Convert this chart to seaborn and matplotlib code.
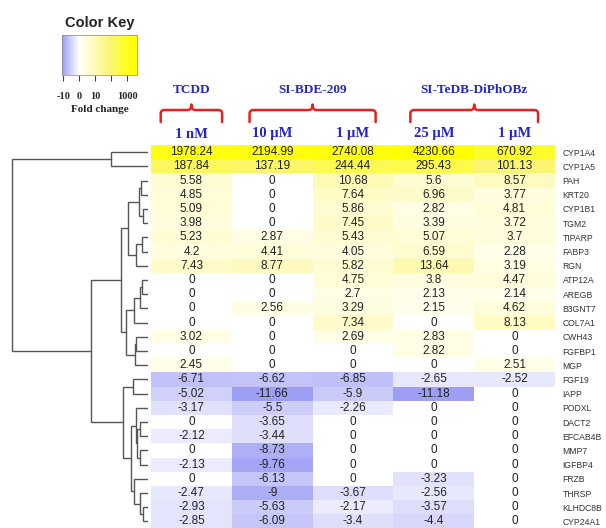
import numpy as np
import pandas as pd
import matplotlib
matplotlib.use("Agg")
import matplotlib.pyplot as plt
import seaborn as sns
from matplotlib.colors import LinearSegmentedColormap, Normalize
from matplotlib.path import Path
from matplotlib.patches import PathPatch
import matplotlib.cm as cm

# ---- data ----
genes = ["CYP1A4", "CYP1A5", "PAH", "KRT20", "CYP1B1", "TGM2", "TIPARP", "FABP3",
         "RGN", "ATP12A", "AREGB", "B3GNT7", "COL7A1", "CWH43", "FGFBP1", "MGP",
         "FGF19", "IAPP", "PODXL", "DACT2", "EFCAB4B", "MMP7", "IGFBP4", "FRZB",
         "THRSP", "KLHDC8B", "CYP24A1"]
conditions = ["1 nM", "10 \u00b5M", "1 \u00b5M", "25 \u00b5M", "1 \u00b5M"]
groups = ["TCDD", "SI-BDE-209", "SI-TeDB-DiPhOBz"]
group_cols = [(0, 1), (1, 3), (3, 5)]

tcdd_1nM = [1978.24, 187.84, 5.58, 4.85, 5.09, 3.98, 5.23, 4.2, 7.43, 0, 0, 0, 0,
            3.02, 0, 2.45, -6.71, -5.02, -3.17, 0, -2.12, 0, -2.13, 0, -2.47, -2.93, -2.85]
bde_10uM = [2194.99, 137.19, 0, 0, 0, 0, 2.87, 4.41, 8.77, 0, 0, 2.56, 0,
            0, 0, 0, -6.62, -11.66, -5.5, -3.65, -3.44, -8.73, -9.76, -6.13, -9, -5.63, -6.09]
bde_1uM = [2740.08, 244.44, 10.68, 7.64, 5.86, 7.45, 5.43, 4.05, 5.82, 4.75, 2.7, 3.29, 7.34,
           2.69, 0, 0, -6.85, -5.9, -2.26, 0, 0, 0, 0, 0, -3.67, -2.17, -3.4]
tedb_25uM = [4230.66, 295.43, 5.6, 6.96, 2.82, 3.39, 5.07, 6.59, 13.64, 3.8, 2.13, 2.15, 0,
             2.83, 2.82, 0, -2.65, -11.18, 0, 0, 0, 0, 0, -3.23, -2.56, -3.57, -4.4]
tedb_1uM = [670.92, 101.13, 8.57, 3.77, 4.81, 3.72, 3.7, 2.28, 3.19, 4.47, 2.14, 4.62, 8.13,
            0, 0, 2.51, -2.52, 0, 0, 0, 0, 0, 0, 0, 0, 0, 0]

# row dendrogram (scipy-like linkage: left id, right id, height), leaves 0..26
merges = [(4, 5, 5), (2, 3, 7), (28, 27, 9), (6, 7, 6), (30, 8, 12), (29, 31, 20),
          (9, 10, 6), (33, 11, 8), (34, 12, 14), (13, 14, 12), (36, 15, 13),
          (35, 37, 22), (32, 38, 27), (0, 1, 37), (16, 17, 15), (19, 20, 8),
          (21, 22, 8), (42, 43, 11), (18, 44, 12), (25, 26, 5), (24, 46, 8),
          (23, 47, 14), (45, 48, 17), (41, 49, 25), (39, 50, 57), (40, 51, 136)]

key_ticks = [-10, 0, 10, 100, 1000]
key_labels = ["-10", "0", "10", "", "1000"]


def fold_scale(v):
    """symmetric lin/log scale used by the color key"""
    v = np.asarray(v, dtype=float)
    a = np.abs(v)
    return np.sign(v) * np.where(a <= 10, a / 10, 1 + np.log10(np.maximum(a, 10) / 10))


df = pd.DataFrame({"c0": tcdd_1nM, "c1": bde_10uM, "c2": bde_1uM,
                   "c3": tedb_25uM, "c4": tedb_1uM}, index=genes)
scaled = pd.DataFrame(fold_scale(df.values), index=genes, columns=conditions)
labels = np.vectorize(lambda x: f"{x:g}")(df.values)

vmin = float(fold_scale(-11.66))
vmax = float(fold_scale(4230.66))
anchors = [(vmin, (0.62, 0.62, 0.96)), (0.0, (1, 1, 1)), (0.25, (1, 0.995, 0.90)),
           (1.0, (0.995, 0.98, 0.72)), (2.0, (0.98, 0.96, 0.45)),
           (3.0, (1, 1, 0.12)), (vmax, (1, 1, 0))]
cmap = LinearSegmentedColormap.from_list(
    "fold", [((p - vmin) / (vmax - vmin), c) for p, c in anchors])

sns.set_style("white")
plt.rcParams["font.family"] = ["Liberation Sans", "DejaVu Sans"]

W, H = 606, 528
fig = plt.figure(figsize=(W / 100, H / 100), dpi=100)

hm_left, hm_right, hm_top, hm_bot = 151, 555, 145, 528.6
ax_hm = fig.add_axes([hm_left / W, (H - hm_bot) / H, (hm_right - hm_left) / W,
                      (hm_bot - hm_top) / H])
sns.heatmap(scaled, annot=labels, fmt="", cmap=cmap, vmin=vmin, vmax=vmax,
            cbar=False, linewidths=0, xticklabels=False, yticklabels=genes,
            annot_kws={"fontsize": 8.5, "color": "#222222", "family": "Liberation Sans"},
            ax=ax_hm)
ax_hm.yaxis.tick_right()
ax_hm.tick_params(axis="y", length=0, pad=5.5, labelsize=6.2, labelcolor="#333333")
for t in ax_hm.get_yticklabels():
    t.set_rotation(0)
    t.set_family(["Liberation Sans Narrow", "Liberation Sans"])
ax_hm.set_xlabel("")
ax_hm.set_ylabel("")

# dendrogram
ax_den = fig.add_axes([10 / W, (H - hm_bot) / H, 138 / W, (hm_bot - hm_top) / H])
pos = {i: (i + 0.5, 0.0) for i in range(len(genes))}
for k, (a, b, h) in enumerate(merges):
    ya, ha = pos[a]
    yb, hb = pos[b]
    ax_den.plot([ha, h, h, hb], [ya, ya, yb, yb], color="#555555", lw=1.0,
                solid_joinstyle="miter")
    pos[len(genes) + k] = ((ya + yb) / 2, h)
ax_den.set_xlim(138, 0)
ax_den.set_ylim(len(genes), 0)
ax_den.axis("off")

# column headers, group labels and braces
ax_head = fig.add_axes([hm_left / W, (H - hm_top) / H, (hm_right - hm_left) / W, hm_top / H])
ax_head.set_xlim(0, len(conditions))
ax_head.set_ylim(hm_top, 0)
ax_head.axis("off")
blue = "#2424c8"
for i, c in enumerate(conditions):
    ax_head.text(i + 0.5, 134, c, ha="center", va="center", color=blue,
                 fontsize=10.5, fontweight="bold", family="Liberation Serif")
brace_pad = [0.12, 0.22, 0.21]
for g, (c0, c1), pad in zip(groups, group_cols, brace_pad):
    xl, xr = c0 + pad, c1 - pad
    xc = (xl + xr) / 2
    rx, tx = 0.05, 0.045
    verts = [(xl, 122), (xl, 113.5), (xl, 110), (xl + rx, 110), (xc - tx, 110),
             (xc, 110), (xc, 104.5), (xc, 110), (xc + tx, 110), (xr - rx, 110),
             (xr, 110), (xr, 113.5), (xr, 122)]
    codes = [Path.MOVETO, Path.LINETO, Path.CURVE3, Path.CURVE3, Path.LINETO,
             Path.CURVE3, Path.CURVE3, Path.CURVE3, Path.CURVE3, Path.LINETO,
             Path.CURVE3, Path.CURVE3, Path.LINETO]
    ax_head.add_patch(PathPatch(Path(verts, codes), fill=False, edgecolor="#ee1c1c",
                                lw=1.8, capstyle="round", joinstyle="round"))
    ax_head.text(xc, 90, g, ha="center", va="center", color=blue, fontsize=9.5,
                 fontweight="bold", family="Liberation Serif")

# color key
ax_key = fig.add_axes([62 / W, (H - 75) / H, 75 / W, 40 / H])
sm = cm.ScalarMappable(norm=Normalize(vmin=vmin, vmax=vmax), cmap=cmap)
cb = fig.colorbar(sm, cax=ax_key, orientation="horizontal")
cb.set_ticks(fold_scale(key_ticks))
cb.set_ticklabels(key_labels)
cb.outline.set_linewidth(0.5)
cb.outline.set_edgecolor("#888888")
ax_key.tick_params(axis="x", direction="out", length=4, width=0.8, color="#444444",
                   pad=8, labelsize=7.5)
for t in ax_key.get_xticklabels():
    t.set_family("Liberation Serif")
    t.set_fontweight("bold")
fig.text(100 / W, 1 - 23 / H, "Color Key", ha="center", va="center",
         fontsize=10.5, fontweight="bold", color="#222222")
fig.text(100 / W, 1 - 109 / H, "Fold change", ha="center", va="center",
         fontsize=8, fontweight="bold", family="Liberation Serif", color="#222222")

fig.savefig("out.png", dpi=100)
